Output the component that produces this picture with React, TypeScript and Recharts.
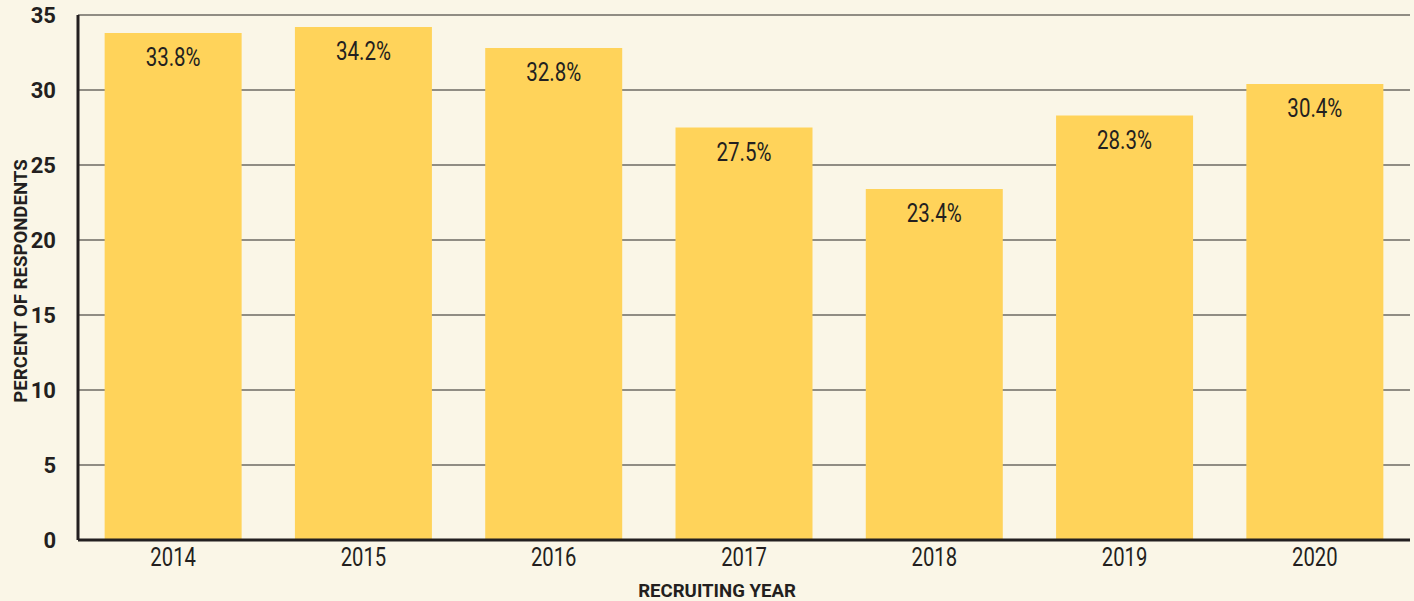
import { Bar, BarChart, CartesianGrid, Label, LabelList, XAxis, YAxis } from "recharts";

const years = ["2014", "2015", "2016", "2017", "2018", "2019", "2020"];
const percents = [33.8, 34.2, 32.8, 27.5, 23.4, 28.3, 30.4];
const yTicks = [0, 5, 10, 15, 20, 25, 30, 35];

const data = years.map((year, i) => ({ year, value: percents[i] }));

const FONT = "Roboto, 'Liberation Sans', sans-serif";
const INK = "#231f20";

// Roboto is wider than the condensed face in the original, so squeeze it horizontally
function NarrowText({ x, y, size, bold, squeeze, angle = 0, children }: any) {
  const rot = angle ? ` rotate(${angle})` : "";
  return (
    <g transform={`translate(${x},${y})${rot}`}>
      <text
        transform={`scale(${squeeze},1)`}
        textAnchor="middle"
        fill={INK}
        fontSize={size}
        fontWeight={bold ? 700 : 400}
        fontFamily={FONT}
      >
        {children}
      </text>
    </g>
  );
}

function YearTick({ x, y, payload }: any) {
  return (
    <NarrowText x={x} y={y + 20} size={26} squeeze={0.78}>
      {payload.value}
    </NarrowText>
  );
}

function ValueLabel({ x, y, width, value }: any) {
  return (
    <NarrowText x={x + width / 2} y={y + 33} size={25} squeeze={0.82}>
      {`${Number(value).toFixed(1)}%`}
    </NarrowText>
  );
}

export default function App() {
  return (
    <div style={{ position: "fixed", left: 0, top: 0, width: 1414, height: 601, background: "#faf6e7" }}>
      <BarChart
        width={1414}
        height={601}
        data={data}
        margin={{ top: 15, right: 4, bottom: 0, left: 0 }}
        barCategoryGap="14%"
      >
        <CartesianGrid horizontal vertical={false} stroke="#6d6a63" strokeWidth={1.5} />
        <XAxis
          dataKey="year"
          height={61}
          tickLine={false}
          axisLine={{ stroke: INK, strokeWidth: 3 }}
          tick={<YearTick />}
          tickMargin={0}
        >
          <Label
            content={() => (
              <NarrowText x={717} y={597} size={19} bold squeeze={0.98}>
                RECRUITING YEAR
              </NarrowText>
            )}
          />
        </XAxis>
        <YAxis
          width={78}
          domain={[0, 35]}
          ticks={yTicks}
          tickLine={false}
          axisLine={{ stroke: INK, strokeWidth: 3 }}
          tick={{ fill: INK, fontSize: 22, fontWeight: 700, fontFamily: FONT }}
          tickMargin={16}
        >
          <Label
            content={() => (
              <NarrowText x={27} y={281} size={19} bold squeeze={0.98} angle={-90}>
                PERCENT OF RESPONDENTS
              </NarrowText>
            )}
          />
        </YAxis>
        <Bar dataKey="value" fill="#ffd35a" isAnimationActive={false}>
          <LabelList dataKey="value" content={<ValueLabel />} />
        </Bar>
      </BarChart>
    </div>
  );
}
